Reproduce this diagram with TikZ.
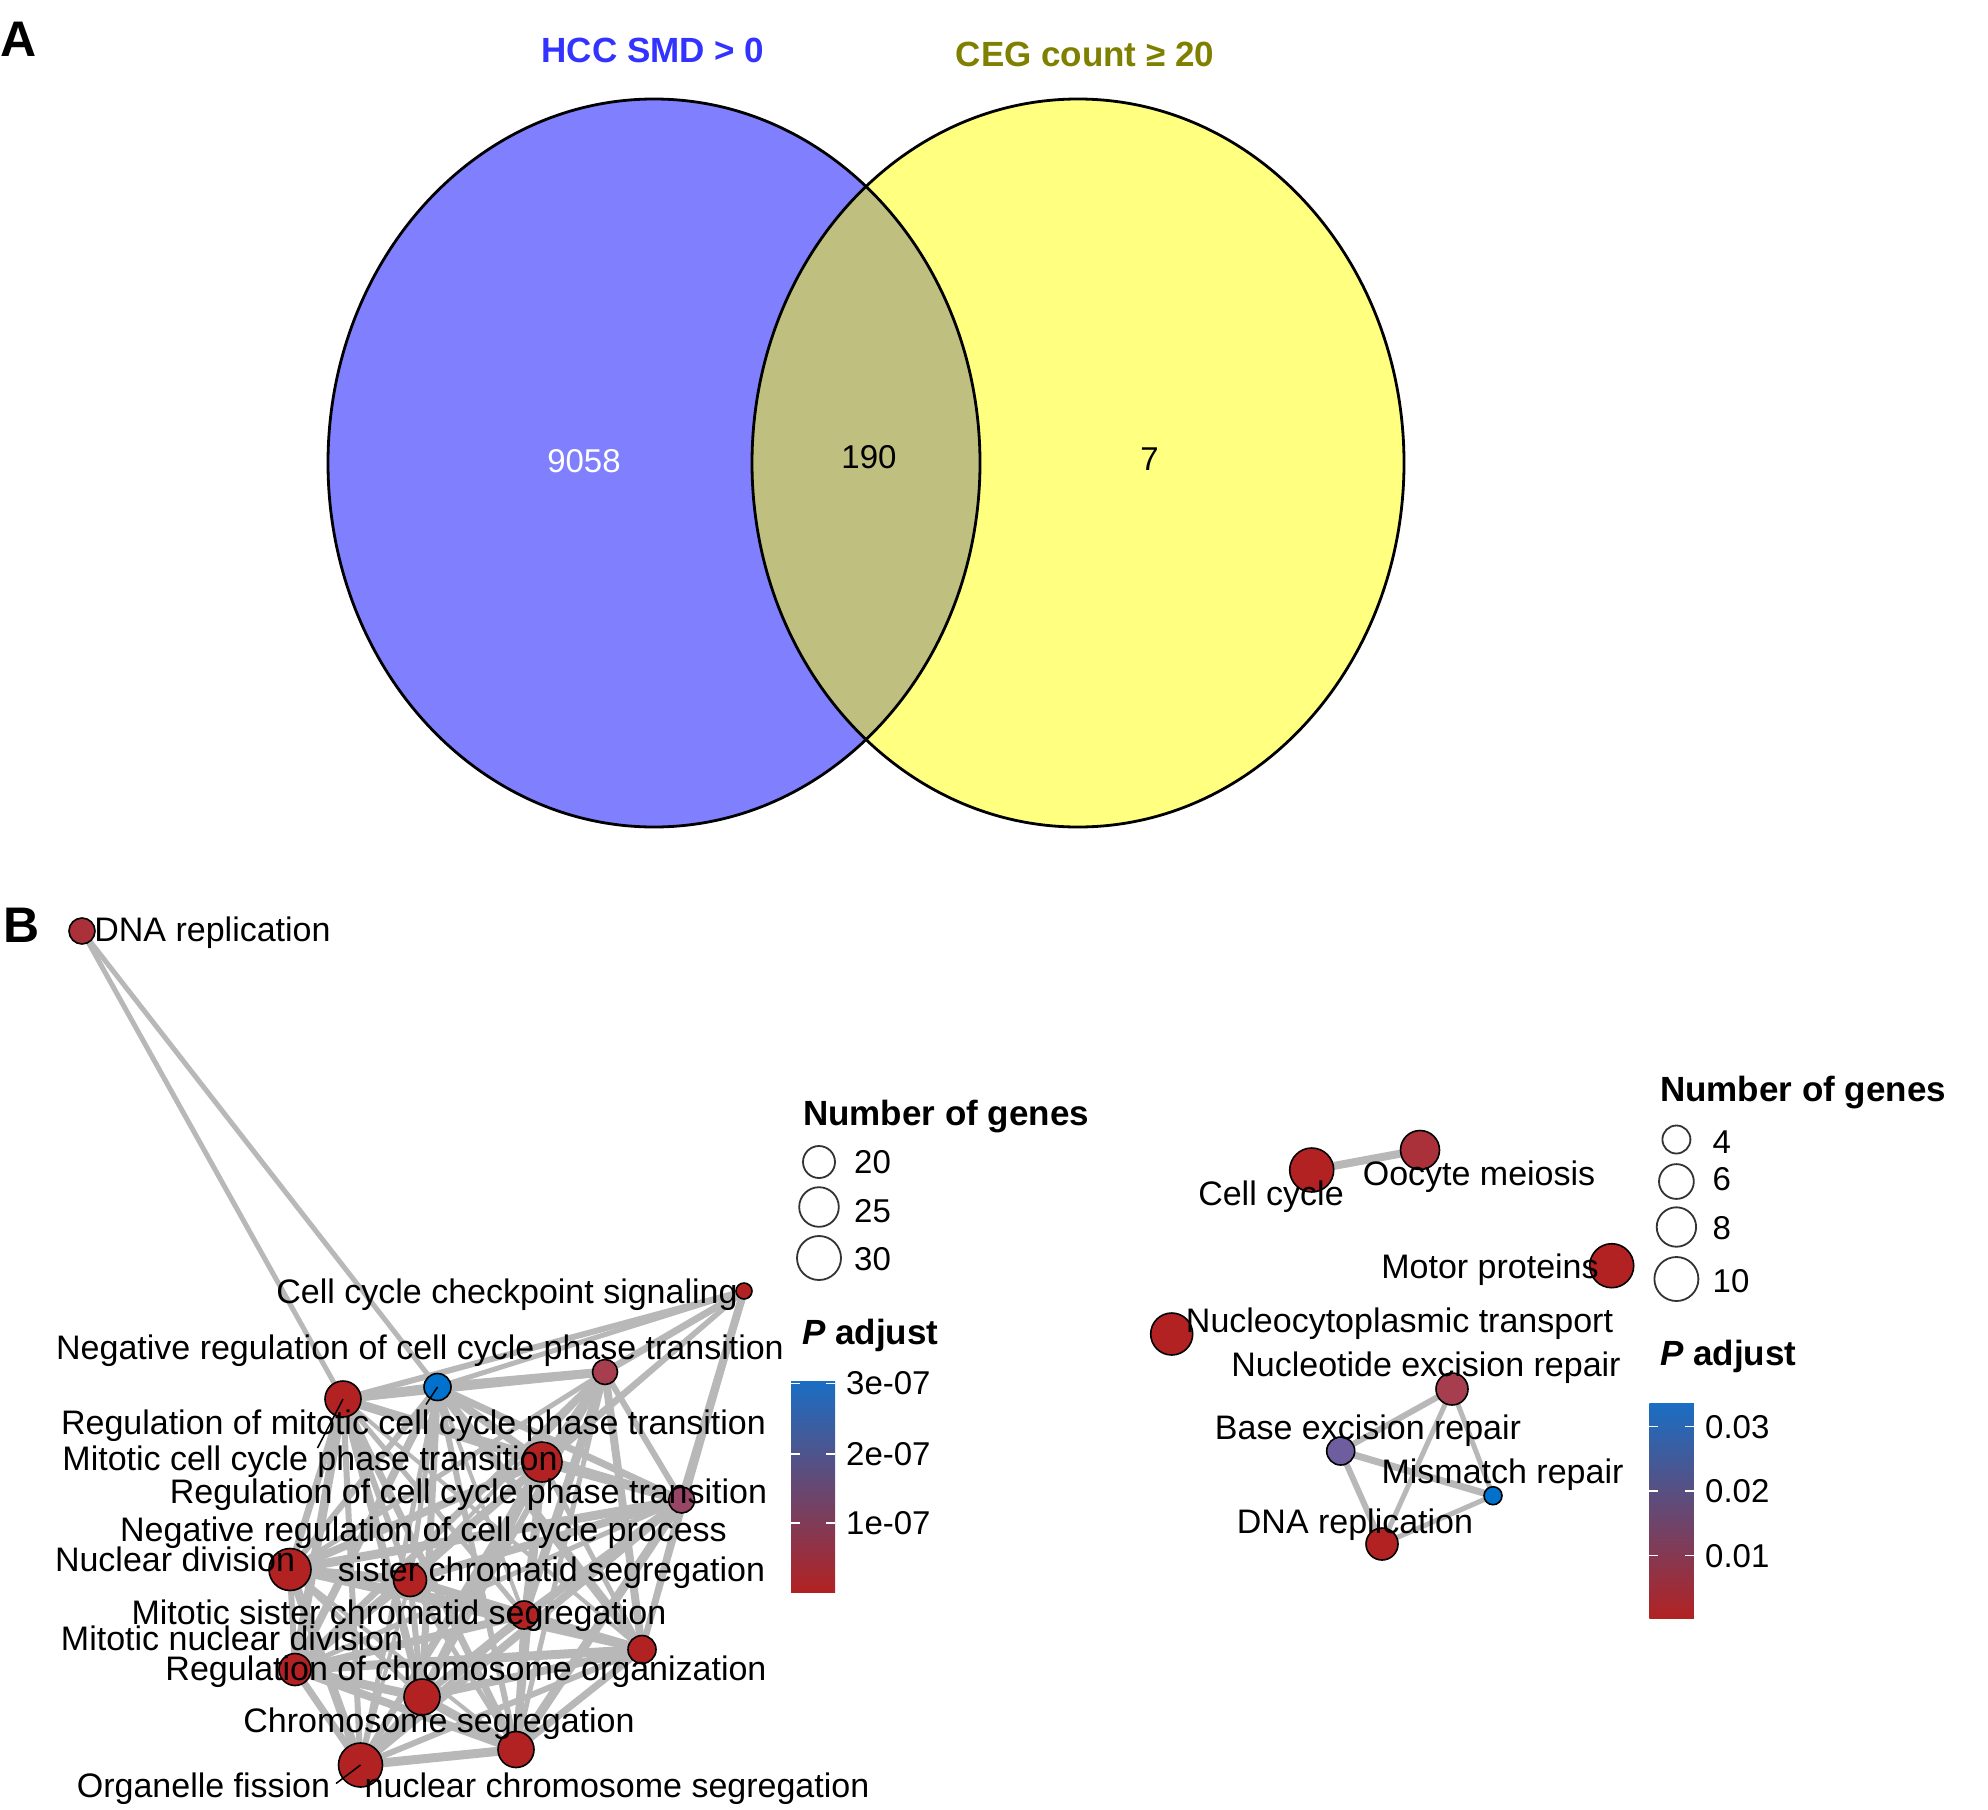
\documentclass[tikz,border=0pt]{standalone}
\usepackage{fontspec}
\setmainfont{Liberation Sans}
\usetikzlibrary{backgrounds}
\definecolor{vblue}{RGB}{128,128,255}
\definecolor{vyellow}{RGB}{255,255,128}
\definecolor{vover}{RGB}{191,191,128}
\definecolor{tblue}{RGB}{51,51,255}
\definecolor{tolive}{RGB}{128,128,0}
\definecolor{cred}{RGB}{178,34,34}
\definecolor{cred2}{RGB}{170,48,58}
\definecolor{cmauve}{RGB}{166,62,80}
\definecolor{cmauve2}{RGB}{152,70,102}
\definecolor{cpurple}{RGB}{110,94,160}
\definecolor{cblue}{RGB}{0,114,206}
\definecolor{cedge}{RGB}{184,184,184}
\definecolor{gtop}{RGB}{26,110,196}
\definecolor{gmid}{RGB}{125,88,133}
\definecolor{gbot}{RGB}{178,34,34}
\tikzset{
 gnode/.style={circle, draw=black, line width=1.6pt, inner sep=0pt},
 lbl/.style={anchor=base, inner sep=0pt, font=\fontsize{34}{40}\selectfont},
 edge/.style={draw=cedge},
 leader/.style={draw=black, line width=1.5pt},
 legtitle/.style={anchor=base west, inner sep=0pt, font=\fontsize{35}{42}\selectfont\bfseries},
 legnum/.style={anchor=base west, inner sep=0pt, font=\fontsize{33}{40}\selectfont},
 sizekey/.style={circle, draw=black!80, line width=1.8pt, inner sep=0pt, fill=white},
 cbtick/.style={draw=white, line width=1.5pt},
 cblab/.style={anchor=west, inner sep=0pt, font=\fontsize{33}{40}\selectfont},
 panel/.style={anchor=base west, inner sep=0pt, font=\fontsize{50}{56}\selectfont\bfseries},
 venntitle/.style={anchor=base, inner sep=0pt, font=\fontsize{35}{42}\selectfont\bfseries},
 vennnum/.style={anchor=base, inner sep=0pt, font=\fontsize{33}{40}\selectfont},
}
\begin{document}
\begin{tikzpicture}[x=1pt,y=-1pt]
\useasboundingbox (0,0) rectangle (1988,1809);

% ---------------- Panel A: Venn ----------------
\node[panel] (pa) at (0,57) {A};
\fill[vblue] (654,463) ellipse [x radius=326, y radius=364];
\fill[vyellow] (1078,463) ellipse [x radius=326, y radius=364];
\begin{scope}
  \clip (654,463) ellipse [x radius=326, y radius=364];
  \fill[vover] (1078,463) ellipse [x radius=326, y radius=364];
\end{scope}
\draw[black, line width=2.8pt] (654,463) ellipse [x radius=326, y radius=364];
\draw[black, line width=2.8pt] (1078,463) ellipse [x radius=326, y radius=364];
\node[venntitle, text=tblue] (t1) at (653,63) {HCC SMD > 0};
\node[venntitle, text=tolive] (t2) at (1085,66.7) {CEG count ≥ 20};
\node[vennnum, text=white] (v1) at (584,472) {9058};
\node[vennnum] (v2) at (869,468.7) {190};
\node[vennnum] (v3) at (1149.6,470) {7};

% ---------------- Panel B ----------------
\node[panel] (pb) at (3,942.7) {B};

% left network nodes
\node[gnode, fill=cred2, minimum size=26pt] (n1) at (82,931) {};
\node[gnode, fill=cred, minimum size=16pt] (n2) at (744,1291) {};
\node[gnode, fill=cmauve, minimum size=25pt] (n3) at (605,1372) {};
\node[gnode, fill=cblue, minimum size=27pt] (n4) at (437.5,1387) {};
\node[gnode, fill=cred, minimum size=36pt] (n5) at (343,1399) {};
\node[gnode, fill=cred, minimum size=40pt] (n6) at (542,1462) {};
\node[gnode, fill=cmauve2, minimum size=26pt] (n7) at (681.6,1500) {};
\node[gnode, fill=cred, minimum size=42pt] (n8) at (290,1569.5) {};
\node[gnode, fill=cred, minimum size=33pt] (n9) at (410,1580) {};
\node[gnode, fill=cred, minimum size=28pt] (n10) at (524,1615) {};
\node[gnode, fill=cred, minimum size=28pt] (n11) at (642,1649.5) {};
\node[gnode, fill=cred, minimum size=32pt] (n12) at (295,1669.5) {};
\node[gnode, fill=cred, minimum size=36pt] (n13) at (422,1697) {};
\node[gnode, fill=cred, minimum size=36pt] (n14) at (516,1749.5) {};
\node[gnode, fill=cred, minimum size=44pt] (n15) at (360.5,1765) {};

% right network nodes
\node[gnode, fill=cred, minimum size=44pt] (r1) at (1311.7,1170) {};
\node[gnode, fill=cred2, minimum size=39pt] (r2) at (1420,1150) {};
\node[gnode, fill=cred, minimum size=44pt] (r3) at (1611.7,1265.7) {};
\node[gnode, fill=cred, minimum size=42pt] (r4) at (1171.7,1334) {};
\node[gnode, fill=cmauve, minimum size=32pt] (r5) at (1452,1389) {};
\node[gnode, fill=cpurple, minimum size=28pt] (r6) at (1340.7,1451) {};
\node[gnode, fill=cblue, minimum size=18pt] (r7) at (1493,1495.7) {};
\node[gnode, fill=cred, minimum size=32pt] (r8) at (1382,1544) {};

\begin{scope}[on background layer]
  \fill[white] (0,0) rectangle (1988,1809);
  % DNA replication links
  \draw[edge, line width=5pt] (n1.center) -- (n5.center);
  \draw[edge, line width=5pt] (n1.center) -- (n4.center);
  % checkpoint links
  \foreach \k/\w in {5/6,4/5,3/7,6/5,7/8,11/6,9/5}{
    \draw[edge, line width=\w pt] (n2.center) -- (n\k.center);
  }
  % dense cluster
  \foreach \i in {3,...,14}{
    \pgfmathtruncatemacro{\s}{\i+1}
    \foreach \j in {\s,...,15}{
      \pgfmathsetmacro{\w}{4+mod(\i*7+\j*11,6)}
      \draw[edge, line width=\w pt] (n\i.center) -- (n\j.center);
    }
  }
  % right network links
  \draw[edge, line width=8pt] (r1.center) -- (r2.center);
  \draw[edge, line width=6pt] (r5.center) -- (r6.center);
  \draw[edge, line width=5pt] (r5.center) -- (r7.center);
  \draw[edge, line width=5pt] (r5.center) -- (r8.center);
  \draw[edge, line width=7pt] (r6.center) -- (r7.center);
  \draw[edge, line width=6pt] (r6.center) -- (r8.center);
  \draw[edge, line width=5pt] (r7.center) -- (r8.center);
\end{scope}

% leader segments
\coordinate (e5) at (317.5,1448);
\coordinate (e4) at (426,1404.5);
\coordinate (e15) at (336,1783.5);
\draw[leader] (n5.center) -- (e5);
\draw[leader] (n4.center) -- (e4);
\draw[leader] (n15.center) -- (e15);

% left labels
\node[lbl] (a1) at (212.5,941.7) {DNA replication};
\node[lbl] (a2) at (507,1303) {Cell cycle checkpoint signaling};
\node[lbl] (a3) at (420,1359) {Negative regulation of cell cycle phase transition};
\node[lbl] (a4) at (413.5,1434) {Regulation of mitotic cell cycle phase transition};
\node[lbl] (a5) at (310,1470) {Mitotic cell cycle phase transition};
\node[lbl] (a6) at (468.5,1503) {Regulation of cell cycle phase transition};
\node[lbl] (a7) at (423.5,1541) {Negative regulation of cell cycle process};
\node[lbl] (a8) at (175,1571) {Nuclear division};
\node[lbl] (a9) at (551.5,1581) {sister chromatid segregation};
\node[lbl] (a10) at (399,1624) {Mitotic sister chromatid segregation};
\node[lbl] (a11) at (232,1650) {Mitotic nuclear division};
\node[lbl] (a12) at (466,1680) {Regulation of chromosome organization};
\node[lbl] (a13) at (439,1732.6) {Chromosome segregation};
\node[lbl] (a14) at (203.5,1797) {Organelle fission};
\node[lbl] (a15) at (617,1797) {nuclear chromosome segregation};

% right labels
\node[lbl] (b1) at (1271,1205) {Cell cycle};
\node[lbl] (b2) at (1479,1185) {Oocyte meiosis};
\node[lbl] (b3) at (1490,1278) {Motor proteins};
\node[lbl] (b4) at (1399.5,1332) {Nucleocytoplasmic transport};
\node[lbl] (b5) at (1426,1376.7) {Nucleotide excision repair};
\node[lbl] (b6) at (1368,1439) {Base excision repair};
\node[lbl] (b7) at (1502.5,1483) {Mismatch repair};
\node[lbl] (b8) at (1355,1533) {DNA replication};

% ---------------- left legend ----------------
\node[legtitle] (lg1) at (803,1125) {Number of genes};
\node[sizekey, minimum size=32pt] (k1) at (819,1162) {};
\node[sizekey, minimum size=39.6pt] (k2) at (819,1207) {};
\node[sizekey, minimum size=44pt] (k3) at (819,1258) {};
\node[legnum] (k1t) at (854,1173) {20};
\node[legnum] (k2t) at (854,1222) {25};
\node[legnum] (k3t) at (854,1270) {30};
\node[legtitle] (lp1) at (802,1344) {\itshape P\upshape\ adjust};
\shade[top color=gtop, middle color=gmid, bottom color=gbot] (791,1381) rectangle (835,1592.6);
\foreach \y in {1383.5,1454,1523}{
  \draw[cbtick] (791,\y) -- (800,\y);
  \draw[cbtick] (826,\y) -- (835,\y);
}
\node[cblab] (c1) at (846,1383.5) {3e-07};
\node[cblab] (c2) at (846,1454) {2e-07};
\node[cblab] (c3) at (846,1523) {1e-07};

% ---------------- right legend ----------------
\node[legtitle] (lg2) at (1660,1101.8) {Number of genes};
\node[sizekey, minimum size=28pt] (q1) at (1676.4,1139.5) {};
\node[sizekey, minimum size=34.8pt] (q2) at (1676.4,1181.5) {};
\node[sizekey, minimum size=39.4pt] (q3) at (1676.4,1227) {};
\node[sizekey, minimum size=44pt] (q4) at (1676.4,1279) {};
\node[legnum] (q1t) at (1712.5,1153.6) {4};
\node[legnum] (q2t) at (1712.5,1190) {6};
\node[legnum] (q3t) at (1712.5,1239) {8};
\node[legnum] (q4t) at (1712.5,1292) {10};
\node[legtitle] (lp2) at (1660,1365) {\itshape P\upshape\ adjust};
\shade[top color=gtop, middle color=gmid, bottom color=gbot] (1649.4,1403) rectangle (1693.8,1618.7);
\foreach \y in {1426.7,1491,1555.7}{
  \draw[cbtick] (1649.4,\y) -- (1658.4,\y);
  \draw[cbtick] (1684.8,\y) -- (1693.8,\y);
}
\node[cblab] (d1) at (1705,1426.7) {0.03};
\node[cblab] (d2) at (1705,1491) {0.02};
\node[cblab] (d3) at (1705,1555.7) {0.01};
\end{tikzpicture}
\end{document}
